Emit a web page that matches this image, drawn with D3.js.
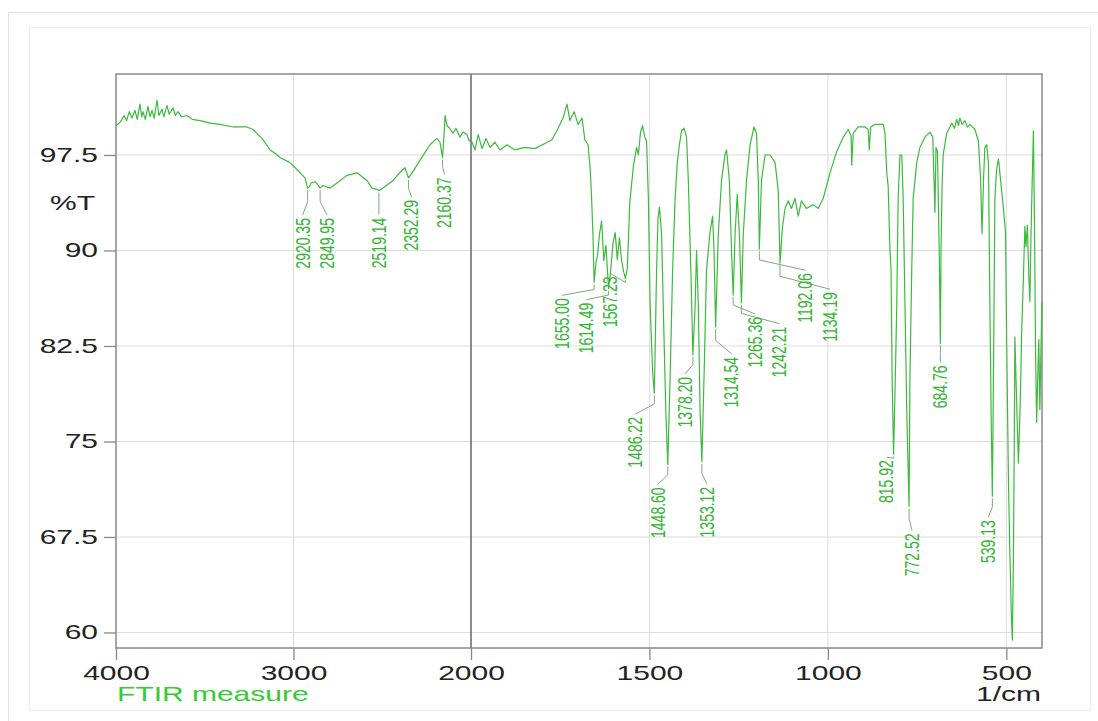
<!DOCTYPE html>
<html>
<head>
<meta charset="utf-8">
<script src="https://cdn.jsdelivr.net/npm/d3@7"></script>
<style>
  html, body { margin: 0; padding: 0; background: #fff; }
  svg { display: block; font-family: "Liberation Sans", Arial, sans-serif; }
</style>
</head>
<body>
<svg id="chart" width="1098" height="721"></svg>
<script>
// spectrum (1/cm, %T)
var wavenumber = [
  4000, 3975, 3955, 3940, 3925, 3910, 3893, 3880, 3865, 3855, 3848, 3835, 3820, 3808, 3797, 3785,
  3769, 3758, 3741, 3730, 3713, 3700, 3679, 3665, 3651, 3630, 3600, 3570, 3527, 3470, 3414, 3341,
  3262, 3228, 3200, 3172, 3132, 3100, 3076, 3020, 2990, 2963, 2935, 2920.35, 2910, 2901, 2879, 2865,
  2849.95, 2834, 2794, 2755, 2699, 2642, 2586, 2558, 2530, 2519.14, 2496, 2439, 2389, 2372, 2352.29, 2332,
  2287, 2231, 2192, 2175, 2160.37, 2150, 2146, 2135, 2120, 2101, 2085, 2062, 2045, 2023, 2010, 2000,
  1989, 1980, 1969, 1958, 1947, 1933, 1919, 1899, 1877, 1849, 1821, 1793, 1773, 1756, 1742, 1731,
  1723, 1711, 1700, 1689, 1681, 1672, 1666, 1662, 1658, 1655.00, 1650, 1645, 1640, 1634, 1628, 1622,
  1614.49, 1608, 1602, 1596, 1590, 1584, 1578, 1572, 1567.23, 1562, 1558, 1555, 1550, 1545, 1536, 1531,
  1525, 1519, 1513, 1508, 1503, 1498, 1491, 1486.22, 1480, 1476, 1472, 1466, 1459, 1454, 1448.60, 1442,
  1435, 1428, 1422, 1416, 1410, 1403, 1396, 1391, 1384, 1378.20, 1372, 1368, 1363, 1358, 1353.12, 1347,
  1340, 1330, 1323, 1319, 1314.54, 1307, 1298, 1288, 1284, 1276, 1270, 1265.36, 1260, 1254, 1248, 1242.21,
  1237, 1228, 1218, 1207, 1200, 1195, 1192.06, 1186, 1176, 1162, 1148, 1139, 1134.19, 1127, 1120, 1111,
  1102, 1092, 1083, 1074, 1060, 1041, 1027, 1013, 994, 975, 957, 943, 935, 933, 929, 915,
  896, 887, 884, 880, 868, 854, 845, 840, 835, 831, 826, 823, 820, 815.92, 811, 807,
  803, 798, 793, 789, 784, 779, 772.52, 770, 765, 761, 751, 742, 728, 714, 706, 700,
  697, 693, 688, 684.76, 683, 680, 677, 667, 653, 645, 639, 634, 630, 624, 616, 609,
  602, 588, 578, 572, 568, 564, 560, 555, 550, 546, 542, 539.13, 536, 532, 527, 522,
  516, 508, 502, 499, 494, 490, 486, 483, 480, 477, 476, 471, 466, 461, 457, 452,
  448, 445, 441, 437, 434, 431, 427, 424, 421, 418, 415, 412, 409, 406, 403, 400
];
var transmittance = [
  99.8, 100.1, 100.6, 100.2, 100.9, 100.4, 101.0, 100.3, 101.5, 100.5, 100.9, 100.3, 101.3, 100.5, 101.0, 100.4,
  101.8, 100.6, 101.1, 100.5, 101.4, 100.7, 101.2, 100.6, 100.9, 100.5, 100.6, 100.3, 100.2, 100.0, 99.9, 99.7,
  99.7, 99.5, 99.1, 98.7, 97.9, 97.6, 97.3, 96.9, 96.5, 96.1, 95.7, 94.9, 95.0, 95.3, 95.4, 95.2,
  94.9, 95.1, 94.9, 95.3, 95.9, 96.1, 95.5, 94.9, 94.8, 94.7, 94.9, 95.5, 96.3, 96.5, 95.7, 96.1,
  97.1, 98.3, 98.8, 98.5, 97.3, 99.5, 100.6, 99.8, 99.6, 99.2, 99.6, 98.9, 99.3, 99.1, 98.6, 98.7,
  97.9, 99.1, 98.0, 98.8, 98.1, 98.5, 97.9, 98.3, 97.9, 98.1, 98.0, 98.4, 98.7, 99.6, 100.4, 101.5,
  100.2, 100.9, 99.9, 100.4, 98.7, 98.3, 96.4, 94.1, 91.0, 87.5, 89.0, 89.7, 91.3, 92.3, 89.2, 90.4,
  87.0, 88.6, 90.6, 91.4, 89.3, 91.0, 89.2, 88.3, 87.8, 88.6, 91.5, 93.8, 95.2, 96.6, 98.1, 97.5,
  99.3, 99.8, 98.9, 98.6, 94.1, 85.7, 80.4, 78.8, 88.5, 92.5, 93.4, 91.3, 83.0, 77.3, 73.2, 80.1,
  88.5, 94.1, 96.9, 98.3, 99.4, 99.6, 98.9, 95.5, 88.5, 81.8, 85.7, 90.0, 85.7, 77.3, 73.4, 80.1,
  88.5, 91.5, 92.7, 90.0, 84.0, 91.3, 95.5, 97.6, 97.9, 95.5, 90.0, 86.5, 91.3, 94.4, 91.3, 85.9,
  91.3, 95.5, 98.3, 99.7, 99.2, 95.5, 90.1, 95.5, 97.5, 97.5, 96.9, 94.7, 89.0, 91.9, 93.3, 93.9,
  93.3, 94.1, 92.7, 93.9, 93.3, 93.6, 93.3, 94.1, 96.1, 97.8, 98.9, 99.5, 99.0, 96.7, 99.2, 99.7,
  99.7, 99.5, 97.9, 99.7, 99.9, 99.9, 99.9, 99.2, 96.1, 95.0, 90.0, 88.5, 80.1, 74.0, 80.0, 85.7,
  94.1, 97.5, 97.5, 94.1, 85.7, 77.4, 69.9, 80.1, 88.5, 94.1, 96.9, 98.1, 98.9, 99.3, 98.9, 93.0,
  98.1, 97.8, 90.0, 82.7, 90.0, 95.0, 97.5, 99.2, 100.0, 99.6, 100.3, 99.8, 100.4, 99.9, 100.2, 99.7,
  99.9, 99.5, 98.6, 95.5, 91.3, 95.5, 98.1, 98.3, 96.9, 85.7, 76.0, 70.7, 80.1, 94.1, 96.4, 97.2,
  95.5, 93.3, 91.3, 82.9, 71.8, 66.2, 61.5, 59.4, 66.0, 78.0, 83.2, 78.0, 73.3, 78.0, 83.5, 88.0,
  91.9, 90.3, 92.0, 88.0, 86.0, 91.0, 96.0, 99.4, 92.0, 82.0, 76.5, 80.0, 83.0, 77.5, 82.0, 86.0
];

// labelled peaks (1/cm)
var peakWavenumber = [
  2920.35, 2849.95, 2519.14, 2352.29, 2160.37, 1655.00, 1614.49, 1567.23, 1486.22, 1448.60, 1378.20,
  1353.12, 1314.54, 1265.36, 1242.21, 1192.06, 1134.19, 815.92, 772.52, 684.76, 539.13
];

var xTickValues = [4000, 3000, 2000, 1500, 1000, 500];
var yTickValues = [60, 67.5, 75, 82.5, 90, 97.5];
var yTickLabels = ["60", "67.5", "75", "82.5", "90", "97.5"];
var yAxisTitle = "%T";
var xAxisTitle = "1/cm";
var seriesName = "FTIR measure";

var svg = d3.select("#chart");
var green = "#3cba3c";
var plotLeft = 116, plotRight = 1042, plotTop = 74, plotBottom = 648;

// the plot changes scale at 2000 1/cm
var x = d3.scaleLinear().domain([4000, 2000, 400]).range([plotLeft, 471, plotRight]);
var y = d3.scaleLinear().domain([58.78, 103.86]).range([plotBottom, plotTop]);

// card background
svg.append("rect").attr("x", 8.5).attr("y", 12.5).attr("width", 1100).attr("height", 720)
  .attr("fill", "#fff").attr("stroke", "#e2e2e2");
svg.append("rect").attr("x", 29.5).attr("y", 27.5).attr("width", 1061).attr("height", 683)
  .attr("fill", "#fff").attr("stroke", "#ececec");

// grid
svg.append("g").selectAll("line").data(yTickValues).enter().append("line")
  .attr("x1", plotLeft).attr("x2", plotRight)
  .attr("y1", function(d) { return y(d); }).attr("y2", function(d) { return y(d); })
  .attr("stroke", "#dcdcdc");
svg.append("g").selectAll("line").data(xTickValues.slice(1)).enter().append("line")
  .attr("x1", function(d) { return x(d); }).attr("x2", function(d) { return x(d); })
  .attr("y1", plotTop).attr("y2", plotBottom)
  .attr("stroke", function(d) { return d == 2000 ? "#666" : "#dcdcdc"; })
  .attr("stroke-width", function(d) { return d == 2000 ? 1.5 : 1; });

// axes ticks
var xMinor = d3.range(4000, 2000, -1000 / 6).concat(d3.range(2000, 400, -500 / 6));
var gx = svg.append("g").attr("transform", "translate(0," + plotBottom + ")");
gx.call(d3.axisBottom(x).tickValues(xMinor).tickSize(6).tickFormat(""));
gx.call(d3.axisBottom(x).tickValues(xTickValues).tickSize(12).tickPadding(6).tickFormat(d3.format("d")));
gx.selectAll(".domain").remove();
gx.selectAll("line").attr("stroke", "#888").attr("stroke-width", 1.3);
gx.selectAll("text").attr("font-size", 20).attr("fill", "#222")
  .attr("font-family", "Liberation Sans, Arial, sans-serif")
  .attr("transform", "scale(1.5,1)");

var yMinor = d3.range(60, 103.86, 1.5);
var gy = svg.append("g").attr("transform", "translate(" + plotLeft + ",0)");
gy.call(d3.axisLeft(y).tickValues(yMinor).tickSize(6).tickFormat(""));
gy.call(d3.axisLeft(y).tickValues(yTickValues).tickSize(12)
  .tickFormat(function(d, i) { return yTickLabels[i]; }));
gy.selectAll(".domain").remove();
gy.selectAll("line").attr("stroke", "#888").attr("stroke-width", 1.3);
gy.selectAll("text").attr("font-size", 20).attr("fill", "#222").attr("x", -12)
  .attr("font-family", "Liberation Sans, Arial, sans-serif")
  .attr("transform", "scale(1.5,1)");

svg.append("text").text(yAxisTitle)
  .attr("transform", "translate(95," + y((97.5 + 90) / 2) + ") scale(1.5,1)")
  .attr("text-anchor", "end").attr("dy", "0.35em")
  .attr("font-size", 20).attr("fill", "#222");

// frame
svg.append("rect").attr("x", plotLeft).attr("y", plotTop)
  .attr("width", plotRight - plotLeft).attr("height", plotBottom - plotTop)
  .attr("fill", "none").attr("stroke", "#888").attr("stroke-width", 1.5);

// spectrum
var points = wavenumber.map(function(w, i) { return [w, transmittance[i]]; });
var line = d3.line()
  .x(function(d) { return x(d[0]); })
  .y(function(d) { return y(d[1]); });
svg.append("path").datum(points)
  .attr("d", line)
  .attr("fill", "none").attr("stroke", green).attr("stroke-width", 1.2)
  .attr("stroke-linejoin", "round");

// peak labels, placed below each band like the instrument software does
var labelShift = {
  "2920.35": [-5, 30], "2849.95": [7, 30], "2519.14": [0, 27], "2352.29": [3, 22], "2160.37": [2, 20],
  "1655.00": [-32, 16], "1614.49": [-22, 14], "1567.23": [-15, -2], "1486.22": [-19, 24],
  "1448.60": [-10, 23], "1378.20": [-8, 22], "1353.12": [5, 25], "1314.54": [16, 30],
  "1265.36": [22, 22], "1242.21": [38, 24], "1192.06": [46, 24], "1134.19": [50, 29],
  "815.92": [-7, 6], "772.52": [3, 27], "684.76": [0, 22], "539.13": [-4, 24]
};

var peaks = peakWavenumber.map(function(w) {
  var i = wavenumber.indexOf(w);
  var name = w.toFixed(2);
  var s = labelShift[name] || [0, 20];
  var px = x(w), py = y(transmittance[i]);
  return { name: name, px: px, py: py, lx: px + s[0], ly: py + s[1] };
});

var gp = svg.append("g");
gp.selectAll("path").data(peaks).enter().append("path")
  .attr("d", function(d) {
    var mid = d.py + Math.max(4, (d.ly - d.py) * 0.45);
    return "M" + d.px + "," + (d.py + 2) + "L" + d.px + "," + mid + "L" + d.lx + "," + (d.ly - 3);
  })
  .attr("fill", "none").attr("stroke", "#7fa77f").attr("stroke-width", 1);

gp.selectAll("text").data(peaks).enter().append("text")
  .attr("transform", function(d) {
    return "translate(" + d.lx + "," + d.ly + ") scale(1.4,1) rotate(-90)";
  })
  .attr("text-anchor", "end").attr("dy", "0.35em")
  .attr("font-size", 14).attr("fill", "#33b533")
  .text(function(d) { return d.name; });

// captions under the axis
svg.append("text").text(seriesName)
  .attr("transform", "translate(117,701) scale(1.5,1)")
  .attr("font-size", 20).attr("fill", "#33cc33");
svg.append("text").text(xAxisTitle)
  .attr("transform", "translate(1041,701) scale(1.5,1)")
  .attr("text-anchor", "end")
  .attr("font-size", 20).attr("fill", "#222");
</script>
</body>
</html>
